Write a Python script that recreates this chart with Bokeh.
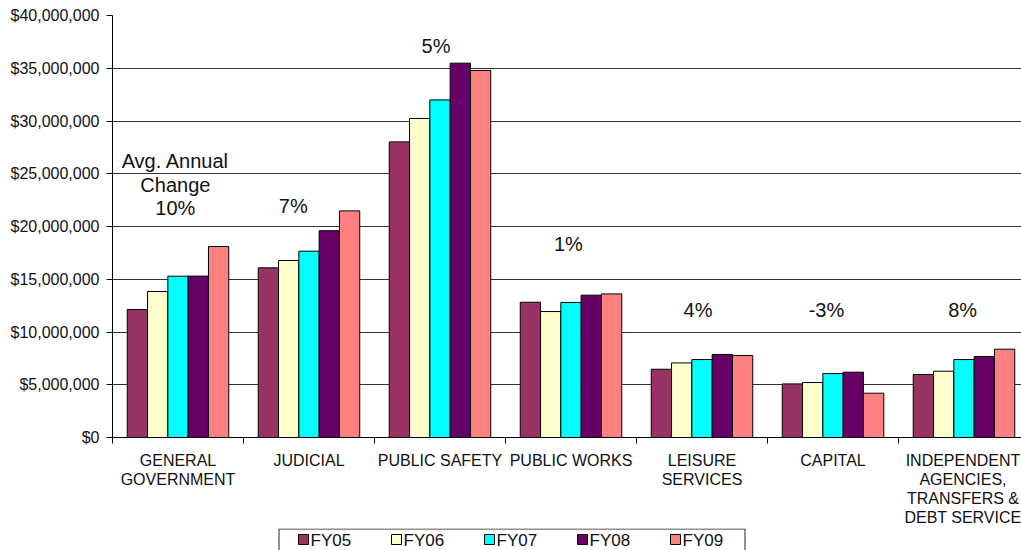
import numpy as np
from bokeh.plotting import figure
from bokeh.layouts import column
from bokeh.models import Range1d, FixedTicker, NumeralTickFormatter, ColumnDataSource
from bokeh.core.properties import value
from bokeh.embed import file_html
from bokeh.resources import INLINE

# ---- data -------------------------------------------------------------
categories = ["GENERAL\nGOVERNMENT", "JUDICIAL", "PUBLIC SAFETY", "PUBLIC WORKS",
              "LEISURE\nSERVICES", "CAPITAL",
              "INDEPENDENT\nAGENCIES,\nTRANSFERS &\nDEBT SERVICE"]
years = ["FY05", "FY06", "FY07", "FY08", "FY09"]

fy05 = [12_130_000, 16_080_000, 28_020_000, 12_820_000, 6_470_000, 5_080_000, 5_970_000]
fy06 = [13_840_000, 16_780_000, 30_240_000, 11_940_000, 7_070_000, 5_210_000, 6_280_000]
fy07 = [15_290_000, 17_660_000, 32_000_000, 12_800_000, 7_390_000, 6_060_000, 7_390_000]
fy08 = [15_300_000, 19_600_000, 35_480_000, 13_490_000, 7_870_000, 6_190_000, 7_680_000]
fy09 = [18_100_000, 21_480_000, 34_790_000, 13_610_000, 7_770_000, 4_200_000, 8_370_000]
series = [fy05, fy06, fy07, fy08, fy09]

avg_change = ["10%", "7%", "5%", "1%", "4%", "-3%", "8%"]

# ---- styling / layout -------------------------------------------------
colors = ["#993366", "#FFFFCC", "#00FFFF", "#660066", "#FF8080"]
FONT = "Liberation Sans"
cat_px = 131.0            # pixel width of one category slot
frame_left, frame_top, frame_bottom = 112, 15, 437
W, H = 1021, 550
KEY_H = 22                # strip holding the series key
MAIN_H = H - KEY_H
bar_w = 0.155
# where each change label sits (category units / dollars)
label_x = [0.48, 1.38, 2.47, 3.48, 4.47, 5.45, 6.49]
label_y = [21_770_000, 21_980_000, 37_150_000, 18_350_000, 12_100_000, 12_100_000, 12_100_000]
heading_y = [26_250_000, 23_950_000]

n = len(categories)
centers = np.arange(n) + 0.5

p = figure(width=W, height=MAIN_H, output_backend="svg", toolbar_location=None,
           x_range=Range1d(0, (W - frame_left) / cat_px), y_range=Range1d(0, 40_000_000),
           min_border_left=frame_left, min_border_right=0,
           min_border_top=frame_top, min_border_bottom=MAIN_H - frame_bottom)
p.background_fill_color = "white"
p.border_fill_color = "white"
p.outline_line_color = None

for i, (vals, c) in enumerate(zip(series, colors)):
    src = ColumnDataSource(dict(x=centers + (i - 2) * bar_w, top=vals))
    p.vbar(x="x", top="top", width=bar_w, bottom=0, source=src,
           fill_color=c, line_color="black", line_width=1)

# change labels
p.text(x=label_x, y=label_y, text=avg_change, text_font=value(FONT),
       text_font_size="20px", text_color="#111", text_align="center",
       text_baseline="alphabetic")
p.text(x=[label_x[0], label_x[0]], y=heading_y, text=["Avg. Annual", "Change"],
       text_font=value(FONT), text_font_size="20px", text_color="#111",
       text_align="center", text_baseline="alphabetic")

# y axis
p.yaxis.ticker = FixedTicker(ticks=list(range(0, 40_000_001, 5_000_000)))
p.yaxis.formatter = NumeralTickFormatter(format="$0,0")
p.yaxis.major_label_text_font = FONT
p.yaxis.major_label_text_font_size = "16px"
p.yaxis.major_label_text_color = "#111"
p.yaxis.axis_line_color = "black"
p.yaxis.major_tick_line_color = "black"
p.yaxis.major_tick_out = 6
p.yaxis.major_tick_in = 0
p.yaxis.minor_tick_line_color = None
p.yaxis.major_label_standoff = 7

# x axis: labels at centres, tick marks at boundaries
p.xaxis.ticker = FixedTicker(ticks=list(centers), minor_ticks=list(range(n + 1)))
p.xaxis.major_label_overrides = {float(c): lab for c, lab in zip(centers, categories)}
p.xaxis.major_label_text_font = FONT
p.xaxis.major_label_text_font_size = "16px"
p.xaxis.major_label_text_color = "#111"
p.xaxis.major_label_text_line_height = 1.12
p.xaxis.major_tick_out = 0
p.xaxis.major_tick_in = 0
p.xaxis.minor_tick_out = 6
p.xaxis.minor_tick_in = 0
p.xaxis.minor_tick_line_color = "black"
p.xaxis.axis_line_color = "black"
p.xaxis.major_label_standoff = 8

p.xgrid.grid_line_color = None
p.ygrid.grid_line_color = "#333333"
p.ygrid.grid_line_width = 1

# ---- series key strip (coordinates are pixels) ---------------------------
key = figure(width=W, height=KEY_H, output_backend="svg", toolbar_location=None,
             x_range=Range1d(frame_left, W), y_range=Range1d(0, KEY_H),
             x_axis_type=None, y_axis_type=None,
             min_border_left=frame_left, min_border_right=0,
             min_border_top=0, min_border_bottom=0)
key.outline_line_color = None
key.grid.visible = False
key.background_fill_color = "white"
key.border_fill_color = "white"

# key frame (its lower edge runs past the strip)
key.quad(left=278.5, right=744.5, top=KEY_H - 0.5, bottom=-20,
         fill_color="white", line_color="#222", line_width=1)

pitch, sw = 93.0, 10
sw_left = 298 + pitch * np.arange(len(years))
sw_cy = KEY_H - 11
key.quad(left=sw_left, right=sw_left + sw, top=sw_cy + sw / 2, bottom=sw_cy - sw / 2,
         fill_color=colors, line_color="black", line_width=1)
key.text(x=sw_left + sw + 2, y=[sw_cy - 0.5] * len(years), text=years,
         text_font=value(FONT), text_font_size="17px", text_color="#111",
         text_align="left", text_baseline="middle")

open("out.html", "w").write(file_html(column(p, key, spacing=0), INLINE))
